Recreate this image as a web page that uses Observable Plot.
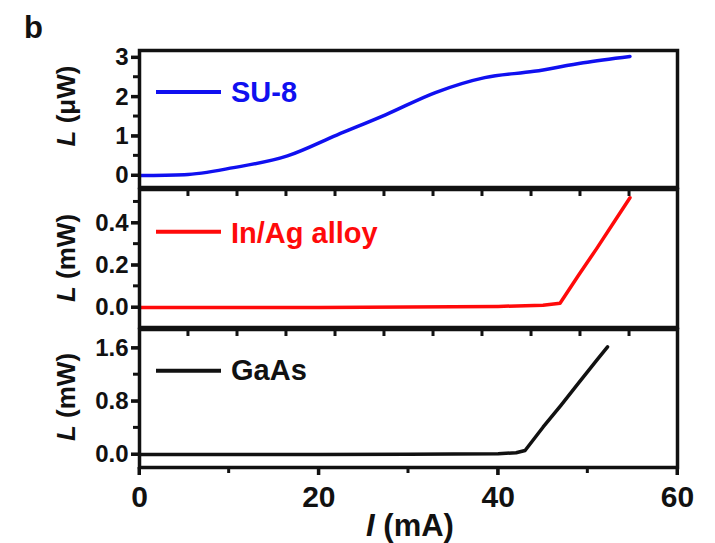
<!DOCTYPE html>
<html><head><meta charset="utf-8">
<script src="https://cdn.jsdelivr.net/npm/d3@7"></script>
<script src="https://cdn.jsdelivr.net/npm/@observablehq/plot@0.6"></script>
<style>
body{margin:0;background:#fff;}
#chart{width:715px;height:543px;overflow:hidden;background:#fff;}
</style></head><body><div id="chart"></div>
<script>
// ---- data ----
const xDomain = [0, 60];
const xMajorTicks = [0, 20, 40, 60];
const xMinorTicks = [10, 30, 50];
const innerTopTicks = [5.46, 10.93, 16.39, 21.86, 27.32, 32.79, 38.25, 43.72, 49.18, 54.65];

const su8Current = [0, 5, 10.5, 16.5, 22, 27.5, 33, 38.5, 44, 49.5, 54.7];
const su8Power   = [0, 0.02, 0.2, 0.5, 1.03, 1.55, 2.11, 2.49, 2.65, 2.87, 3.03];

const inagCurrent = [0, 10, 20, 30, 40, 45, 46.9, 49, 51, 53, 54.7];
const inagPower   = [0, 0, 0, 0.002, 0.005, 0.01, 0.02, 0.155, 0.28, 0.41, 0.52];

const gaasCurrent = [0, 10, 20, 30, 40, 42, 43, 45, 47, 49, 51, 52.2];
const gaasPower   = [0, 0, 0, 0.004, 0.012, 0.025, 0.06, 0.41, 0.74, 1.08, 1.42, 1.62];

const su8YMajor = [0, 1, 2, 3];
const su8YMinor = [0.5, 1.5, 2.5];
const inagYMajor = [0.0, 0.2, 0.4];
const inagYMinor = [0.1, 0.3, 0.5];
const gaasYMajor = [0.0, 0.8, 1.6];
const gaasYMinor = [0.4, 1.2];

const seriesNames = ["SU-8", "In/Ag alloy", "GaAs"];
const seriesColors = ["#1010f0", "#ff0a0a", "#111111"];
const yUnits = ["μW", "mW", "mW"];
const xTitleUnit = "mA";
const panelLetter = "b";

const W = 715, H = 543, ML = 139, MR = 38;
const FONT = '"Liberation Sans", Arial, sans-serif';
const INK = "#111";

const master = d3.select("#chart").append("svg")
  .attr("width", W).attr("height", H).attr("viewBox", `0 0 ${W} ${H}`)
  .style("display", "block").style("background", "#fff");

function tickPath(g, d) {
  g.append("path").attr("d", d).attr("stroke", INK).attr("stroke-width", 3).attr("fill", "none");
}

function panel(cfg) {
  const data = cfg.xs.map((x, i) => ({x, y: cfg.ys[i]}));
  const marks = [
    Plot.axisY({ticks: cfg.yMajor, tickSize: 8, tickPadding: 3, strokeWidth: 3, stroke: INK,
      tickFormat: cfg.yFormat, fontSize: 24, fontWeight: "bold", label: null}),
  ];
  if (cfg.bottomAxis) {
    marks.push(Plot.axisX({ticks: xMajorTicks, tickSize: 8, tickPadding: 10, strokeWidth: 3, stroke: INK,
      fontSize: 30, fontWeight: "bold", label: null, tickFormat: d => String(d)}));
  }
  marks.push(Plot.line(data, {x: "x", y: "y", stroke: cfg.color, strokeWidth: 3.5, curve: cfg.curve || "linear"}));
  marks.push(Plot.frame({stroke: INK, strokeWidth: 3.5}));
  const svg = Plot.plot({
    width: W, height: cfg.height,
    marginLeft: ML, marginRight: MR, marginTop: cfg.marginTop, marginBottom: cfg.marginBottom,
    x: {domain: xDomain, ...(cfg.bottomAxis ? {} : {axis: null})},
    y: {domain: cfg.yDomain},
    style: {fontFamily: FONT, color: INK},
    marks
  });
  const sx = svg.scale("x"), sy = svg.scale("y");
  // move the Plot output into one group of the single master SVG
  const g = master.append("g").attr("transform", `translate(0,${cfg.top})`)
    .attr("class", svg.getAttribute("class"))
    .attr("fill", INK).attr("font-family", FONT)
    .attr("font-size", svg.getAttribute("font-size") || 10)
    .attr("text-anchor", "middle").style("color", INK);
  while (svg.firstChild) g.node().appendChild(svg.firstChild);

  const yTop = cfg.marginTop, yBot = cfg.height - cfg.marginBottom;
  const tg = g.append("g");
  cfg.yMajor.forEach(v => tickPath(tg, `M${ML - 8},${sy.apply(v)}H${ML}`));
  cfg.yMinor.forEach(v => tickPath(tg, `M${ML - 6},${sy.apply(v)}H${ML}`));
  if (cfg.topTicks) innerTopTicks.forEach(v => tickPath(tg, `M${sx.apply(v)},${yTop}V${yTop + 7}`));
  if (cfg.bottomAxis) {
    xMajorTicks.forEach(v => tickPath(tg, `M${sx.apply(v)},${yBot}V${yBot + 8}`));
    xMinorTicks.forEach(v => tickPath(tg, `M${sx.apply(v)},${yBot}V${yBot + 6}`));
  }
  // legend
  g.append("path").attr("d", `M156,${cfg.legendLineY}H221`)
    .attr("stroke", cfg.color).attr("stroke-width", 4).attr("fill", "none");
  g.append("text").attr("x", 231).attr("y", cfg.legendBase).attr("fill", cfg.color)
    .attr("text-anchor", "start")
    .attr("font-size", 29).attr("font-weight", "bold").attr("font-family", FONT).text(cfg.name);
  // y title
  const t = g.append("text").attr("transform", `translate(75,${cfg.yTitleCenter}) rotate(-90)`)
    .attr("text-anchor", "middle").attr("font-size", 26).attr("font-weight", "bold")
    .attr("font-family", FONT).attr("fill", INK);
  t.append("tspan").attr("font-style", "italic").text("L");
  t.append("tspan").text(` (${cfg.unit})`);
  if (cfg.letter) {
    g.append("text").attr("x", 24).attr("y", 38).attr("font-size", 31).attr("font-weight", "bold")
      .attr("text-anchor", "start").attr("font-family", FONT).attr("fill", INK).text(cfg.letter);
  }
  if (cfg.bottomAxis) {
    const xt = g.append("text").attr("x", 410).attr("y", 216).attr("text-anchor", "middle")
      .attr("font-size", 31).attr("font-weight", "bold").attr("font-family", FONT).attr("fill", INK);
    xt.append("tspan").attr("font-style", "italic").text("I");
    xt.append("tspan").text(` (${xTitleUnit})`);
  }
}

panel({top: 0, height: 200, marginTop: 50, marginBottom: 13, yDomain: [-0.305, 3.18],
  yMajor: su8YMajor, yMinor: su8YMinor, yFormat: d3.format("d"), xs: su8Current, ys: su8Power,
  color: seriesColors[0], name: seriesNames[0], legendLineY: 92, legendBase: 102, curve: "monotone-x",
  unit: yUnits[0], yTitleCenter: 106, letter: panelLetter});
panel({top: 180, height: 160, marginTop: 9, marginBottom: 13, yDomain: [-0.095, 0.559],
  yMajor: inagYMajor, yMinor: inagYMinor, yFormat: d3.format(".1f"), xs: inagCurrent, ys: inagPower,
  color: seriesColors[1], name: seriesNames[1], legendLineY: 51.7, legendBase: 63, topTicks: true,
  unit: yUnits[1], yTitleCenter: 78});
panel({top: 320, height: 223, marginTop: 9, marginBottom: 76, yDomain: [-0.196, 1.88],
  yMajor: gaasYMajor, yMinor: gaasYMinor, yFormat: d3.format(".1f"), xs: gaasCurrent, ys: gaasPower,
  color: seriesColors[2], name: seriesNames[2], legendLineY: 50.7, legendBase: 60, topTicks: true, bottomAxis: true,
  unit: yUnits[2], yTitleCenter: 77});
</script>
</body></html>
